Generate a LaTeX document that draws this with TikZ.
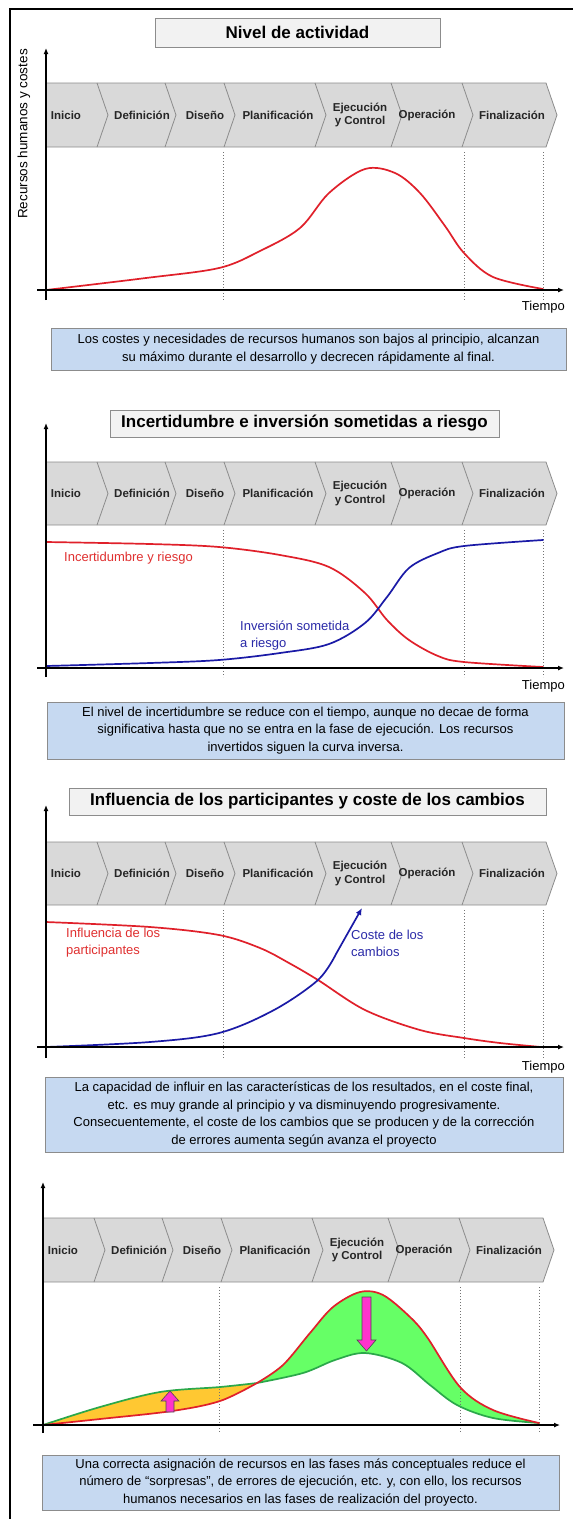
\documentclass[tikz,border=0pt]{standalone}
\usepackage{fontspec}
\setmainfont{Liberation Sans}
\usetikzlibrary{arrows.meta}
\definecolor{barfill}{HTML}{D9D9D9}
\definecolor{barline}{HTML}{8C8C8C}
\definecolor{titlefill}{HTML}{F2F2F2}
\definecolor{boxfill}{HTML}{C6D9F1}
\definecolor{crvred}{HTML}{E0202A}
\definecolor{crvblue}{HTML}{1A1AA6}
\definecolor{txtblue}{HTML}{2A2AA8}
\definecolor{txtred}{HTML}{E03030}
\definecolor{grnline}{HTML}{2BA84A}
\definecolor{grnfill}{HTML}{66FF66}
\definecolor{orgfill}{HTML}{FFC832}
\definecolor{pinkfill}{HTML}{FF33CC}
\tikzset{
 phase/.style={font=\fontsize{11.5}{13.5}\selectfont\bfseries, text=black!85, align=center, inner sep=0pt},
 titlebox/.style={draw=barline, fill=titlefill, font=\fontsize{17}{20}\selectfont\bfseries, inner sep=0pt},
 infobox/.style={draw=barline, fill=boxfill, font=\fontsize{13}{17.5}\selectfont, align=center, inner sep=0pt},
 axisline/.style={line width=1.6pt, -{Latex[length=6pt,width=5pt]}},
 guide/.style={draw=black!55, dotted, line width=1pt},
 curve/.style={line width=1.7pt, line cap=round},
 lbl/.style={font=\fontsize{13}{17}\selectfont, anchor=west, inner sep=0pt, align=left},
 barshape/.style={draw=barline, fill=barfill, line width=0.8pt},
 blockarrow/.style={draw=black!70, fill=pinkfill, line width=0.6pt},
}
\newcommand\phasebar[4]{%
 \begin{scope}[xshift=#3]
 \pgfmathsetmacro\pbmid{(#1+#2)/2}
 \draw[barshape] (46,#1) -- (546,#1) -- (557,\pbmid) -- (546,#2) -- (46,#2) -- cycle;
 \foreach \b in {97,165,224,315,391,462}{\draw[barline, line width=0.8pt] (\b,#1) -- ({\b+11},\pbmid) -- (\b,#2);}
 \node[phase] (#4a) at (66,\pbmid) {Inicio};
 \node[phase] (#4b) at (142,\pbmid) {Definición};
 \node[phase] (#4c) at (205,\pbmid) {Diseño};
 \node[phase] (#4d) at (278,\pbmid) {Planificación};
 \node[phase] (#4e) at (360,\pbmid) {Ejecución\\y Control};
 \node[phase] (#4f) at (427,\pbmid) {Operación};
 \node[phase] (#4g) at (512,\pbmid) {Finalización};
 \end{scope}}
\begin{document}
\begin{tikzpicture}[x=1pt,y=-1pt]
\useasboundingbox (0,0) rectangle (573,1519);
\fill[white] (0,0) rectangle (573,1519);
% frame
\draw[line width=2pt] (10,1519) -- (10,9) -- (573,9);

% ================= Panel 1 =================
\node[titlebox, minimum width=285, minimum height=29] (t1) at (297.5,32.5) {Nivel de actividad};
\phasebar{83}{147}{0}{pA}
\foreach \x in {223,464,543} \draw[guide] (\x,152) -- (\x,300);
\draw[curve, crvred] plot[smooth, tension=0.55] coordinates {(46,290) (146,278) (219,268) (260,251) (300,228) (329,193) (365,169) (395,173) (420,193) (445,226) (464,253) (493,277) (543,289)};
\coordinate (y1b) at (46,300); \coordinate (y1t) at (46,48);
\coordinate (x1l) at (37,290); \coordinate (x1r) at (564,290);
\draw[axisline] (y1b) -- (y1t);
\draw[axisline] (x1l) -- (x1r);
\node[rotate=90, font=\fontsize{13.5}{16}\selectfont, inner sep=0pt] (ylab) at (24,134) {Recursos humanos y costes};
\node[lbl, anchor=east] (tiempo1) at (565,307) {Tiempo};
\node[infobox, minimum width=515, minimum height=42] (info1) at (308.5,349) {Los costes y necesidades de recursos humanos son bajos al principio, alcanzan\\su máximo durante el desarrollo y decrecen rápidamente al final.};

% ================= Panel 2 =================
\node[titlebox, minimum width=389, minimum height=27] (t2) at (304.5,423.5) {Incertidumbre e inversión sometidas a riesgo};
\phasebar{462}{525}{0}{pB}
\foreach \x in {223,464,543} \draw[guide] (\x,530) -- (\x,677);
\draw[curve, crvred] plot[smooth, tension=0.55] coordinates {(46,542) (150,544) (219,547) (280,555) (329,567) (365,593) (387,620) (409,640) (438,656) (464,662) (543,667)};
\draw[curve, crvblue] plot[smooth, tension=0.55] coordinates {(46,666) (150,663) (219,660) (280,653) (329,644) (365,623) (387,597) (409,568) (438,553) (464,546) (543,540)};
\coordinate (y2b) at (46,677); \coordinate (y2t) at (46,423);
\coordinate (x2l) at (37,668); \coordinate (x2r) at (564,668);
\draw[axisline] (y2b) -- (y2t);
\draw[axisline] (x2l) -- (x2r);
\node[lbl, text=txtred] (lab2a) at (64,558) {Incertidumbre y riesgo};
\node[lbl, text=txtblue] (lab2b) at (240,636) {Inversión sometida\\a riesgo};
\node[lbl, anchor=east] (tiempo2) at (565,686) {Tiempo};
\node[infobox, minimum width=517, minimum height=57] (info2) at (305.5,730.5) {El nivel de incertidumbre se reduce con el tiempo, aunque no decae de forma\\significativa hasta que no se entra en la fase de ejecución. Los recursos\\invertidos siguen la curva inversa.};

% ================= Panel 3 =================
\node[titlebox, minimum width=477, minimum height=27] (t3) at (307.5,801.5) {Influencia de los participantes y coste de los cambios};
\phasebar{842}{905}{0}{pC}
\foreach \x in {223,464,543} \draw[guide] (\x,910) -- (\x,1058);
\draw[curve, crvred] plot[smooth, tension=0.55] coordinates {(46,922) (150,927) (219,935) (260,948) (289,963) (318,980) (365,1010) (420,1030) (464,1038) (500,1043) (541,1047)};
\coordinate (c3tip) at (362,908);
\draw[curve, crvblue, -{Latex[length=7pt,width=6pt]}] plot[smooth, tension=0.55] coordinates {(46,1047) (150,1042) (219,1033) (274,1010) (318,980) (336,954)} -- (c3tip);
\coordinate (y3b) at (46,1058); \coordinate (y3t) at (46,805);
\coordinate (x3l) at (37,1047); \coordinate (x3r) at (564,1047);
\draw[axisline] (y3b) -- (y3t);
\draw[axisline] (x3l) -- (x3r);
\node[lbl, text=txtred] (lab3a) at (66,943) {Influencia de los\\participantes};
\node[lbl, text=txtblue] (lab3b) at (351,943) {Coste de los\\cambios};
\node[lbl, anchor=east] (tiempo3) at (565,1067) {Tiempo};
\node[infobox, minimum width=518, minimum height=75] (info3) at (304,1114.5) {La capacidad de influir en las características de los resultados, en el coste final,\\etc. es muy grande al principio y va disminuyendo progresivamente.\\Consecuentemente, el coste de los cambios que se producen y de la corrección\\de errores aumenta según avanza el proyecto};

% ================= Panel 4 =================
\phasebar{1218}{1282}{-3}{pD}
\fill[orgfill] plot[smooth, tension=0.55] coordinates {(43,1425) (100,1407) (160,1392) (220,1387) (257,1383)} -- plot[smooth, tension=0.55] coordinates {(257,1383) (220,1401) (172,1411) (100,1419) (43,1425)} -- cycle;
\fill[grnfill] plot[smooth, tension=0.55] coordinates {(257,1383) (283,1365) (310,1333) (333,1307) (360,1292) (383,1295) (410,1317) (427,1337) (460,1387) (493,1410) (539,1423)} -- plot[smooth, tension=0.55] coordinates {(539,1423) (493,1418) (457,1405) (430,1385) (402,1363) (365,1353) (335,1360) (303,1373) (257,1383)} -- cycle;
\foreach \x in {219,460,539} \draw[guide] (\x,1287) -- (\x,1433);
\draw[curve, grnline] plot[smooth, tension=0.55] coordinates {(43,1425) (100,1407) (160,1392) (220,1387) (257,1383)};
\draw[curve, grnline] plot[smooth, tension=0.55] coordinates {(257,1383) (303,1373) (335,1360) (365,1353) (402,1363) (430,1385) (457,1405) (493,1418) (539,1423)};
\draw[curve, crvred] plot[smooth, tension=0.55] coordinates {(43,1425) (100,1419) (172,1411) (220,1401) (257,1383)};
\draw[curve, crvred] plot[smooth, tension=0.55] coordinates {(257,1383) (283,1365) (310,1333) (333,1307) (360,1292) (383,1295) (410,1317) (427,1337) (460,1387) (493,1410) (539,1423)};
\draw[blockarrow] (362,1297) -- (371,1297) -- (371,1340) -- (376,1340) -- (366.5,1351) -- (357,1340) -- (362,1340) -- cycle;
\draw[blockarrow] (166,1412) -- (174,1412) -- (174,1401) -- (179,1401) -- (170,1391) -- (161,1401) -- (166,1401) -- cycle;
\coordinate (y4b) at (43,1433); \coordinate (y4t) at (43,1182);
\coordinate (x4l) at (33,1425); \coordinate (x4r) at (560,1425);
\draw[axisline] (y4b) -- (y4t);
\draw[axisline] (x4l) -- (x4r);
\node[infobox, minimum width=517, minimum height=55] (info4) at (300.5,1482.5) {Una correcta asignación de recursos en las fases más conceptuales reduce el\\número de “sorpresas”, de errores de ejecución, etc. y, con ello, los recursos\\humanos necesarios en las fases de realización del proyecto.};
\end{tikzpicture}
\end{document}
